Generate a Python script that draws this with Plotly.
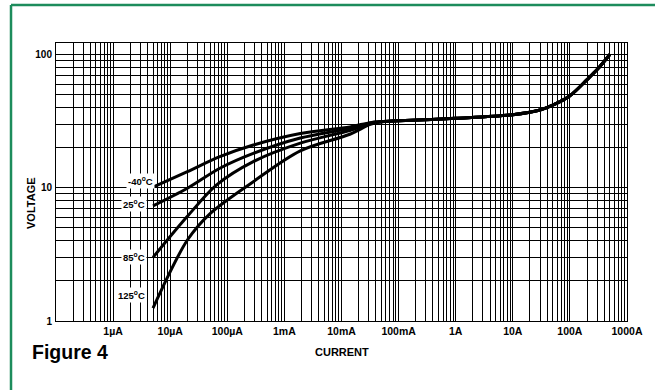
import math
import plotly.graph_objects as go

# ---------------- data ----------------
TEMPS = ["-40<sup>o</sup>C", "25<sup>o</sup>C", "85<sup>o</sup>C", "125<sup>o</sup>C"]

# low-current part of each curve (A, V)
current_m40 = [5e-6, 2e-5, 7.4e-5, 2.85e-4, 1.9e-3, 1.4e-2, 3.2e-2]
volt_m40 = [10.1, 13.2, 17.1, 20.9, 25.5, 28.6, 30.8]

current_25 = [5e-6, 2e-5, 7.4e-5, 2.85e-4, 1.9e-3, 1.4e-2, 3.2e-2]
volt_25 = [7.3, 9.9, 14.0, 18.1, 23.6, 27.9, 30.6]

current_85 = [5e-6, 2e-5, 6.5e-5, 2.85e-4, 1.9e-3, 1.4e-2, 3.2e-2]
volt_85 = [3.0, 6.1, 10.5, 15.7, 21.6, 26.9, 30.3]

current_125 = [5e-6, 2e-5, 5e-5, 2.85e-4, 1.9e-3, 1.4e-2, 3.2e-2]
volt_125 = [1.25, 4.05, 6.4, 11.1, 18.9, 25.2, 29.9]

# common high-current part shared by all curves
current_shared = [5e-2, 1e-1, 1, 10, 30, 50, 100, 200, 300, 500]
volt_shared = [31.3, 31.8, 33.2, 35.3, 38.3, 41.6, 49, 64.8, 77, 100]

# label anchor voltages (left of each curve start)
label_volts = [11.3, 7.55, 3.02, 1.57]
label_current = 5e-6

X_TICK_VALUES = [1e-6, 1e-5, 1e-4, 1e-3, 1e-2, 1e-1, 1, 10, 100, 1000]
X_TICK_LABELS = ["1µA", "10µA", "100µA", "1mA", "10mA", "100mA", "1A", "10A", "100A", "1000A"]
Y_TICK_VALUES = [1, 10, 100]
Y_TICK_LABELS = ["1", "10", "100"]

# ---------------- figure ----------------
FONT = "Liberation Sans, Arial, Helvetica, sans-serif"

series = [
    (current_m40, volt_m40),
    (current_25, volt_25),
    (current_85, volt_85),
    (current_125, volt_125),
]

fig = go.Figure()
for (cx, vy), name in zip(series, TEMPS):
    fig.add_trace(go.Scatter(
        x=cx + current_shared, y=vy + volt_shared, mode="lines", name=name,
        line=dict(color="black", width=3, shape="spline", smoothing=0.9),
        hoverinfo="skip", showlegend=False,
    ))


# minor grid positions: 2..9 multiples of each decade
def minor_vals(lo_exp, hi_exp):
    return [m * 10 ** e for e in range(lo_exp, hi_exp) for m in range(2, 10)]


fig.update_xaxes(
    type="log", range=[-7, 3],
    tickmode="array", tickvals=X_TICK_VALUES, ticktext=X_TICK_LABELS,
    showgrid=True, gridcolor="black", gridwidth=1,
    minor=dict(tickmode="array", tickvals=minor_vals(-7, 3), showgrid=True,
               gridcolor="black", gridwidth=1, ticks=""),
    showline=True, linecolor="black", linewidth=1, mirror=True,
    ticks="", zeroline=False,
    tickfont=dict(family=FONT, size=10.5, color="black", weight="bold"),
)
fig.update_yaxes(
    type="log", range=[0, 2.086],
    tickmode="array", tickvals=Y_TICK_VALUES, ticktext=Y_TICK_LABELS,
    showgrid=True, gridcolor="black", gridwidth=1,
    minor=dict(tickmode="array", tickvals=minor_vals(0, 2), showgrid=True,
               gridcolor="black", gridwidth=1, ticks=""),
    showline=True, linecolor="black", linewidth=1, mirror=True,
    ticks="", zeroline=False, ticklabelstandoff=1,
    tickfont=dict(family=FONT, size=10, color="black", weight="bold"),
)

xshifts = [2, -6, -6, -6]
for txt, v, xs in zip(TEMPS, label_volts, xshifts):
    fig.add_annotation(
        x=math.log10(label_current), y=math.log10(v), xref="x", yref="y",
        text=txt, showarrow=False, xanchor="right", yanchor="middle",
        xshift=xs, bgcolor="white", borderpad=1,
        font=dict(family=FONT, size=9.5, color="black", weight="bold"),
    )

fig.add_annotation(
    x=0.5, y=-0.1115, xref="paper", yref="paper", text="CURRENT",
    showarrow=False, xanchor="center", yanchor="middle",
    font=dict(family=FONT, size=11, color="black", weight="bold"),
)
fig.add_annotation(
    x=-0.0438, y=0.4245, xref="paper", yref="paper", text="VOLTAGE",
    showarrow=False, textangle=-90, xanchor="center", yanchor="middle",
    font=dict(family=FONT, size=11, color="black", weight="bold"),
)
fig.add_annotation(
    x=-0.0455, y=-0.1115, xref="paper", yref="paper", text="Figure 4",
    showarrow=False, xanchor="left", yanchor="middle",
    font=dict(family=FONT, size=19.5, color="black", weight="bold"),
)

GREEN = "#1d8c5c"
fig.add_shape(type="line", xref="paper", yref="paper",
              x0=-0.0788, x1=1.06, y0=1.1367, y1=1.1367,
              line=dict(color=GREEN, width=2.5))
fig.add_shape(type="line", xref="paper", yref="paper",
              x0=-0.0788, x1=-0.0788, y0=1.1367, y1=-0.26,
              line=dict(color=GREEN, width=2.5))

fig.update_layout(
    width=655, height=390,
    margin=dict(l=56, r=28, t=43, b=69),
    paper_bgcolor="white", plot_bgcolor="white",
    font=dict(family=FONT, color="black"),
)

fig.write_html(
    "out.html",
    config={"displayModeBar": False, "staticPlot": True},
    post_script="document.body.style.margin='0';document.body.style.overflow='hidden';",
)
